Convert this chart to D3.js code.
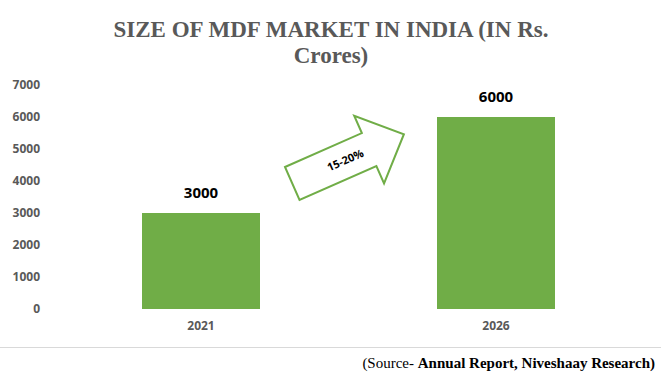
<!DOCTYPE html>
<html>
<head>
<meta charset="utf-8">
<script src="https://cdn.jsdelivr.net/npm/d3@7"></script>
<style>
  body { margin: 0; background: #fff; }
  svg { display: block; }
</style>
</head>
<body>
<div id="chart"></div>
<script>
// chart values
const years = ["2021", "2026"];
const marketSize = [3000, 6000];
const yTicks = [0, 1000, 2000, 3000, 4000, 5000, 6000, 7000];
const growthLabel = "15-20%";

const width = 661, height = 376;
const green = "#70ad47";

const svg = d3.select("#chart")
  .append("svg")
    .attr("width", width)
    .attr("height", height);

// title
const title = svg.append("text")
  .attr("text-anchor", "middle")
  .attr("font-family", "Liberation Serif, Times New Roman, serif")
  .attr("font-weight", "bold")
  .attr("font-size", 23)
  .attr("fill", "#595959");
title.append("tspan").attr("x", 331).attr("y", 37).text("SIZE OF MDF MARKET IN INDIA (IN Rs.");
title.append("tspan").attr("x", 331).attr("y", 63).text("Crores)");

const x = d3.scaleBand()
  .domain(years)
  .range([53.5, 643.5])
  .paddingInner(0.6)
  .paddingOuter(0.3);

const y = d3.scaleLinear()
  .domain([0, 7000])
  .range([309, 85]);

// y axis: labels only
const yAxis = svg.append("g")
  .attr("transform", "translate(48,0)")
  .call(d3.axisLeft(y).tickValues(yTicks).tickFormat(d3.format("d")).tickSize(0).tickPadding(8));
yAxis.select(".domain").remove();
yAxis.selectAll("text")
  .attr("font-family", "Open Sans, sans-serif")
  .attr("font-weight", "bold")
  .attr("font-size", 12)
  .attr("fill", "#595959");

// x axis: labels only
const xAxis = svg.append("g")
  .attr("transform", "translate(0,309)")
  .call(d3.axisBottom(x).tickSize(0).tickPadding(12));
xAxis.select(".domain").remove();
xAxis.selectAll("text")
  .attr("font-family", "Open Sans, sans-serif")
  .attr("font-weight", "bold")
  .attr("font-size", 12)
  .attr("fill", "#595959");

const data = years.map((yr, i) => ({year: yr, value: marketSize[i]}));

svg.selectAll("rect.bar")
  .data(data)
  .enter()
  .append("rect")
    .attr("class", "bar")
    .attr("x", d => x(d.year))
    .attr("y", d => y(d.value))
    .attr("width", x.bandwidth())
    .attr("height", d => y(0) - y(d.value))
    .attr("fill", green);

svg.selectAll("text.val")
  .data(data)
  .enter()
  .append("text")
    .attr("class", "val")
    .attr("x", d => x(d.year) + x.bandwidth() / 2)
    .attr("y", d => y(d.value) - 15)
    .attr("text-anchor", "middle")
    .attr("font-family", "Open Sans, sans-serif")
    .attr("font-weight", "bold")
    .attr("font-size", 15)
    .attr("fill", "#000")
    .text(d => d.value);

// growth arrow (local coords, then rotated)
const arrowPts = [[0, 0], [84, 0], [84, -19], [122, 18], [84, 55], [84, 36], [0, 36]];
const arrow = svg.append("g")
  .attr("transform", "translate(285,167) rotate(-23.8)");
arrow.append("path")
  .attr("d", d3.line()(arrowPts) + "Z")
  .attr("fill", "#fff")
  .attr("stroke", green)
  .attr("stroke-width", 2);
arrow.append("text")
  .attr("x", 58)
  .attr("y", 22)
  .attr("text-anchor", "middle")
  .attr("font-family", "Open Sans, sans-serif")
  .attr("font-weight", "bold")
  .attr("font-size", 11)
  .attr("fill", "#000")
  .text(growthLabel);

// separator line
svg.append("line")
  .attr("x1", 0).attr("x2", width)
  .attr("y1", 347.5).attr("y2", 347.5)
  .attr("stroke", "#d9d9d9")
  .attr("stroke-width", 1);

// source note
const src = svg.append("text")
  .attr("x", 655)
  .attr("y", 368)
  .attr("text-anchor", "end")
  .attr("font-family", "Liberation Serif, Times New Roman, serif")
  .attr("font-size", 15)
  .attr("fill", "#000");
src.append("tspan").text("(Source- ");
src.append("tspan").attr("font-weight", "bold").text("Annual Report, Niveshaay Research)");
</script>
</body>
</html>
